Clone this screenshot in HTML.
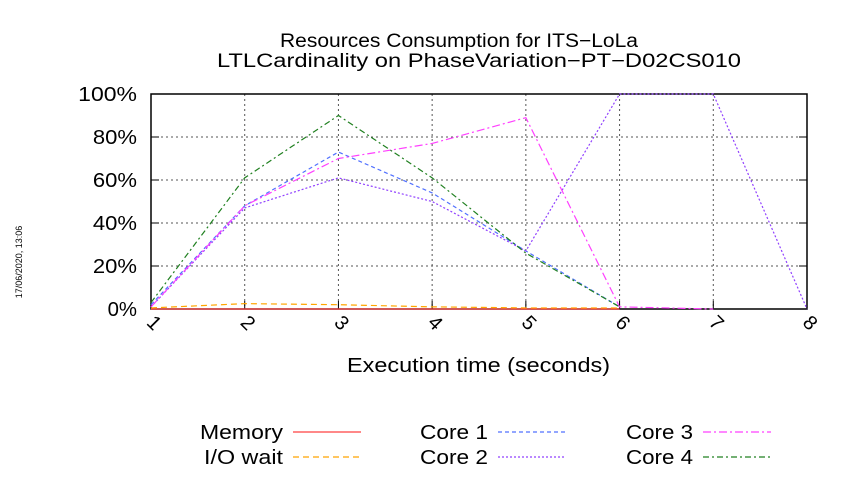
<!DOCTYPE html>
<html><head><meta charset="utf-8"><style>
body{margin:0;background:#fff;}
svg{font-family:"Liberation Sans",sans-serif;}
</style></head><body>
<svg width="850" height="475" xmlns="http://www.w3.org/2000/svg">
<g id="g"></g>
</svg>
<script>
const xCats=[1,2,3,4,5,6,7,8];
const yTicks=[0,20,40,60,80,100];
const memory=[0,0,0,0,0,0];
const iowait=[0.5,2.5,2,1,0.5,0.5];
const core1=[2,48,73,54,27,1];
const core2=[1,47,61,50,27,100,100,0];
const core3=[1,48,70,77,89,1,0];
const core4=[3,61,90,61,26,1];
const L=151,R=807,T=94,B=309;
const X=v=>L+(v-1)*(R-L)/7, Y=v=>B-v*(B-T)/100;
const g=document.getElementById('g');const NS='http://www.w3.org/2000/svg';
function el(t,a,txt){const e=document.createElementNS(NS,t);for(const k in a)e.setAttribute(k,a[k]);if(txt!==undefined)e.textContent=txt;g.appendChild(e);return e;}
let e;
e=el('text',{x:280,y:47,'font-size':19,textLength:358,lengthAdjust:'spacingAndGlyphs'},'Resources Consumption for ITS−LoLa');


e=el('text',{x:217,y:67,'font-size':19,textLength:524,lengthAdjust:'spacingAndGlyphs'},'LTLCardinality on PhaseVariation−PT−D02CS010');


yTicks.forEach(v=>{
 if(v>0&&v<100){e=el('line',{x1:L,x2:R,y1:Y(v),y2:Y(v),stroke:'#555','stroke-dasharray':'2,3','stroke-width':1});
 
 }
 const s=v+'%';
 e=el('text',{x:137,y:Y(v)+7,'font-size':20,'text-anchor':'end',textLength:s.length*14.7,lengthAdjust:'spacingAndGlyphs'},s);
 
 
 el('line',{x1:L,x2:L+8,y1:Y(v),y2:Y(v),stroke:'#000'});
 el('line',{x1:R,x2:R-8,y1:Y(v),y2:Y(v),stroke:'#000'});
});
xCats.forEach(v=>{
 if(v>1&&v<8){e=el('line',{x1:X(v),x2:X(v),y1:T,y2:B,stroke:'#555','stroke-dasharray':'2,3','stroke-width':1});
 
 }
 el('line',{x1:X(v),x2:X(v),y1:B,y2:B-8,stroke:'#000'});
 e=el('text',{x:X(v)-2,y:B+20,'font-size':20,'text-anchor':'middle',transform:`rotate(45 ${X(v)} ${B+20})`},String(v));
 
 
});
e=el('rect',{x:L,y:T,width:R-L,height:B-T,fill:'none',stroke:'#000','stroke-width':1.5});


e=el('text',{x:347,y:372,'font-size':20,textLength:263,lengthAdjust:'spacingAndGlyphs'},'Execution time (seconds)');


e=el('text',{x:22,y:262,'font-size':9,'text-anchor':'middle',transform:'rotate(-90 22 262)'},'17/06/2020, 13:06');


const series=[
 ['memory',memory,'#ff4040','none'],
 ['iowait',iowait,'#ffa500','6,4'],
 ['core1',core1,'#5070ff','4,3'],
 ['core2',core2,'#9040ff','2,2'],
 ['core3',core3,'#ff40ff','8,3,2,3'],
 ['core4',core4,'#208020','6,3,2,3']];
series.forEach(([n,d,c,da])=>{
 const pts=d.map((v,i)=>X(xCats[i])+','+Y(v)).join(' ');
 e=el('polyline',{points:pts,fill:'none',stroke:c,'stroke-width':1.2,'stroke-dasharray':da});
 
 
});
const leg=[['Memory',283,432,0,83],['I/O wait',283,457,1,79],['Core 1',488,432,2,68],['Core 2',488,457,3,68],['Core 3',693,432,4,67],['Core 4',693,457,5,67]];
leg.forEach(([t,x,y,i,w])=>{
 e=el('text',{x:x-w,y:y+7,'font-size':20,textLength:w,lengthAdjust:'spacingAndGlyphs'},t);
 
 
 e=el('line',{x1:x+10,x2:x+78,y1:y,y2:y,stroke:series[i][2],'stroke-width':1.2,'stroke-dasharray':series[i][3]});
 
 
});
</script>
</body></html>
